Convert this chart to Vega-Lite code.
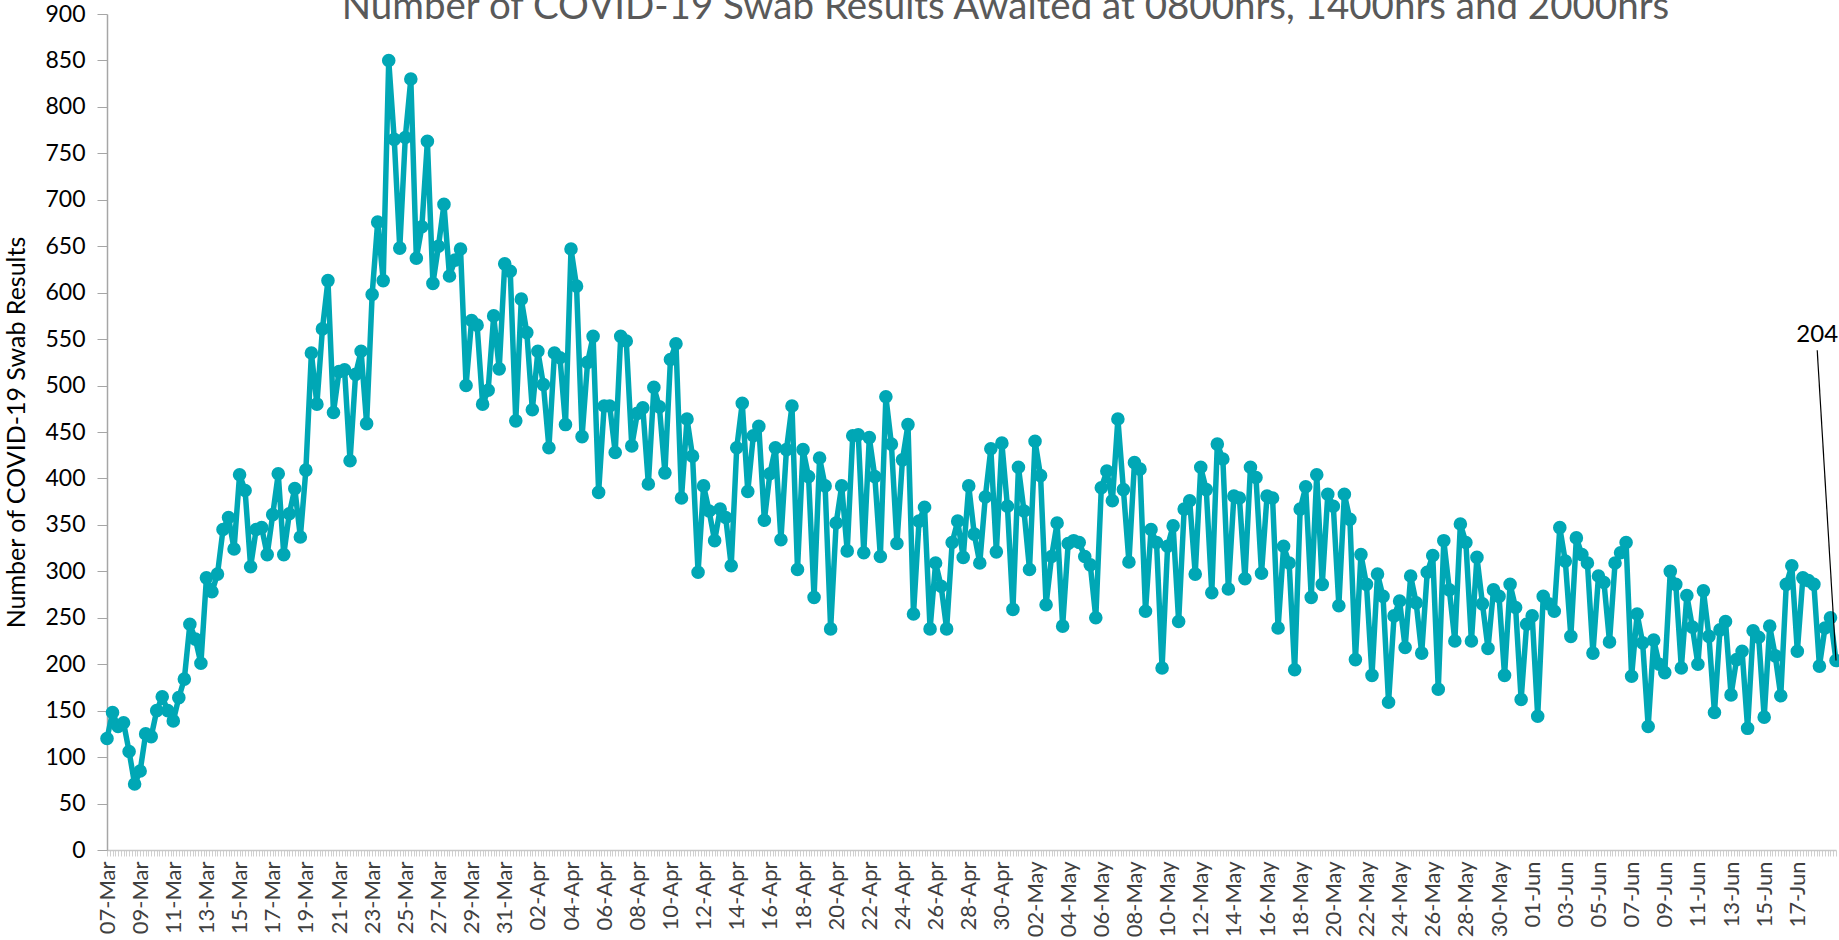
{
  "$schema": "https://vega.github.io/schema/vega-lite/v6.json",
  "width": 1729,
  "height": 836,
  "autosize": "none",
  "padding": {"left": 107, "top": 14, "right": 3, "bottom": 90},
  "background": "white",
  "config": {"view": {"stroke": null}, "font": "Lato"},
  "title": {
    "text": "Number of COVID-19 Swab Results Awaited at 0800hrs, 1400hrs and 2000hrs",
    "font": "Lato",
    "fontSize": 38.5,
    "fontWeight": "normal",
    "color": "#595959",
    "anchor": "middle",
    "frame": "group",
    "baseline": "alphabetic",
    "offset": 0,
    "dy": 54,
    "dx": 34
  },
  "data": {
    "values": [
      {"reading":0,"awaited":120},{"reading":1,"awaited":148},{"reading":2,"awaited":133},{"reading":3,"awaited":137},{"reading":4,"awaited":106},{"reading":5,"awaited":71},{"reading":6,"awaited":85},{"reading":7,"awaited":125},{"reading":8,"awaited":122},{"reading":9,"awaited":150},
      {"reading":10,"awaited":165},{"reading":11,"awaited":150},{"reading":12,"awaited":139},{"reading":13,"awaited":164},{"reading":14,"awaited":184},{"reading":15,"awaited":243},{"reading":16,"awaited":227},{"reading":17,"awaited":201},{"reading":18,"awaited":293},{"reading":19,"awaited":278},
      {"reading":20,"awaited":297},{"reading":21,"awaited":345},{"reading":22,"awaited":358},{"reading":23,"awaited":324},{"reading":24,"awaited":404},{"reading":25,"awaited":387},{"reading":26,"awaited":305},{"reading":27,"awaited":345},{"reading":28,"awaited":347},{"reading":29,"awaited":318},
      {"reading":30,"awaited":361},{"reading":31,"awaited":405},{"reading":32,"awaited":318},{"reading":33,"awaited":362},{"reading":34,"awaited":389},{"reading":35,"awaited":337},{"reading":36,"awaited":409},{"reading":37,"awaited":535},{"reading":38,"awaited":480},{"reading":39,"awaited":561},
      {"reading":40,"awaited":613},{"reading":41,"awaited":471},{"reading":42,"awaited":515},{"reading":43,"awaited":517},{"reading":44,"awaited":419},{"reading":45,"awaited":512},{"reading":46,"awaited":537},{"reading":47,"awaited":459},{"reading":48,"awaited":598},{"reading":49,"awaited":676},
      {"reading":50,"awaited":613},{"reading":51,"awaited":850},{"reading":52,"awaited":765},{"reading":53,"awaited":648},{"reading":54,"awaited":767},{"reading":55,"awaited":830},{"reading":56,"awaited":637},{"reading":57,"awaited":671},{"reading":58,"awaited":763},{"reading":59,"awaited":610},
      {"reading":60,"awaited":650},{"reading":61,"awaited":695},{"reading":62,"awaited":618},{"reading":63,"awaited":635},{"reading":64,"awaited":647},{"reading":65,"awaited":500},{"reading":66,"awaited":570},{"reading":67,"awaited":565},{"reading":68,"awaited":480},{"reading":69,"awaited":495},
      {"reading":70,"awaited":575},{"reading":71,"awaited":518},{"reading":72,"awaited":631},{"reading":73,"awaited":623},{"reading":74,"awaited":462},{"reading":75,"awaited":593},{"reading":76,"awaited":557},{"reading":77,"awaited":474},{"reading":78,"awaited":537},{"reading":79,"awaited":501},
      {"reading":80,"awaited":433},{"reading":81,"awaited":535},{"reading":82,"awaited":530},{"reading":83,"awaited":458},{"reading":84,"awaited":647},{"reading":85,"awaited":607},{"reading":86,"awaited":445},{"reading":87,"awaited":525},{"reading":88,"awaited":553},{"reading":89,"awaited":385},
      {"reading":90,"awaited":478},{"reading":91,"awaited":478},{"reading":92,"awaited":428},{"reading":93,"awaited":553},{"reading":94,"awaited":548},{"reading":95,"awaited":435},{"reading":96,"awaited":470},{"reading":97,"awaited":476},{"reading":98,"awaited":394},{"reading":99,"awaited":498},
      {"reading":100,"awaited":477},{"reading":101,"awaited":406},{"reading":102,"awaited":528},{"reading":103,"awaited":545},{"reading":104,"awaited":379},{"reading":105,"awaited":464},{"reading":106,"awaited":424},{"reading":107,"awaited":299},{"reading":108,"awaited":392},{"reading":109,"awaited":365},
      {"reading":110,"awaited":333},{"reading":111,"awaited":367},{"reading":112,"awaited":358},{"reading":113,"awaited":306},{"reading":114,"awaited":433},{"reading":115,"awaited":481},{"reading":116,"awaited":386},{"reading":117,"awaited":446},{"reading":118,"awaited":456},{"reading":119,"awaited":355},
      {"reading":120,"awaited":405},{"reading":121,"awaited":433},{"reading":122,"awaited":334},{"reading":123,"awaited":431},{"reading":124,"awaited":478},{"reading":125,"awaited":302},{"reading":126,"awaited":431},{"reading":127,"awaited":402},{"reading":128,"awaited":272},{"reading":129,"awaited":422},
      {"reading":130,"awaited":392},{"reading":131,"awaited":238},{"reading":132,"awaited":352},{"reading":133,"awaited":392},{"reading":134,"awaited":322},{"reading":135,"awaited":446},{"reading":136,"awaited":447},{"reading":137,"awaited":320},{"reading":138,"awaited":444},{"reading":139,"awaited":402},
      {"reading":140,"awaited":316},{"reading":141,"awaited":488},{"reading":142,"awaited":437},{"reading":143,"awaited":330},{"reading":144,"awaited":420},{"reading":145,"awaited":458},{"reading":146,"awaited":254},{"reading":147,"awaited":354},{"reading":148,"awaited":369},{"reading":149,"awaited":238},
      {"reading":150,"awaited":309},{"reading":151,"awaited":284},{"reading":152,"awaited":238},{"reading":153,"awaited":331},{"reading":154,"awaited":354},{"reading":155,"awaited":315},{"reading":156,"awaited":392},{"reading":157,"awaited":340},{"reading":158,"awaited":309},{"reading":159,"awaited":380},
      {"reading":160,"awaited":432},{"reading":161,"awaited":321},{"reading":162,"awaited":438},{"reading":163,"awaited":370},{"reading":164,"awaited":259},{"reading":165,"awaited":412},{"reading":166,"awaited":365},{"reading":167,"awaited":302},{"reading":168,"awaited":440},{"reading":169,"awaited":403},
      {"reading":170,"awaited":264},{"reading":171,"awaited":316},{"reading":172,"awaited":352},{"reading":173,"awaited":241},{"reading":174,"awaited":330},{"reading":175,"awaited":333},{"reading":176,"awaited":331},{"reading":177,"awaited":316},{"reading":178,"awaited":307},{"reading":179,"awaited":250},
      {"reading":180,"awaited":390},{"reading":181,"awaited":408},{"reading":182,"awaited":376},{"reading":183,"awaited":464},{"reading":184,"awaited":388},{"reading":185,"awaited":310},{"reading":186,"awaited":417},{"reading":187,"awaited":410},{"reading":188,"awaited":257},{"reading":189,"awaited":345},
      {"reading":190,"awaited":331},{"reading":191,"awaited":196},{"reading":192,"awaited":327},{"reading":193,"awaited":349},{"reading":194,"awaited":246},{"reading":195,"awaited":367},{"reading":196,"awaited":376},{"reading":197,"awaited":297},{"reading":198,"awaited":412},{"reading":199,"awaited":388},
      {"reading":200,"awaited":277},{"reading":201,"awaited":437},{"reading":202,"awaited":421},{"reading":203,"awaited":281},{"reading":204,"awaited":381},{"reading":205,"awaited":379},{"reading":206,"awaited":292},{"reading":207,"awaited":412},{"reading":208,"awaited":401},{"reading":209,"awaited":298},
      {"reading":210,"awaited":381},{"reading":211,"awaited":379},{"reading":212,"awaited":239},{"reading":213,"awaited":327},{"reading":214,"awaited":309},{"reading":215,"awaited":194},{"reading":216,"awaited":367},{"reading":217,"awaited":391},{"reading":218,"awaited":272},{"reading":219,"awaited":404},
      {"reading":220,"awaited":286},{"reading":221,"awaited":383},{"reading":222,"awaited":370},{"reading":223,"awaited":263},{"reading":224,"awaited":383},{"reading":225,"awaited":356},{"reading":226,"awaited":205},{"reading":227,"awaited":318},{"reading":228,"awaited":286},{"reading":229,"awaited":188},
      {"reading":230,"awaited":297},{"reading":231,"awaited":273},{"reading":232,"awaited":159},{"reading":233,"awaited":252},{"reading":234,"awaited":268},{"reading":235,"awaited":218},{"reading":236,"awaited":295},{"reading":237,"awaited":266},{"reading":238,"awaited":212},{"reading":239,"awaited":299},
      {"reading":240,"awaited":317},{"reading":241,"awaited":173},{"reading":242,"awaited":333},{"reading":243,"awaited":280},{"reading":244,"awaited":225},{"reading":245,"awaited":351},{"reading":246,"awaited":331},{"reading":247,"awaited":225},{"reading":248,"awaited":315},{"reading":249,"awaited":265},
      {"reading":250,"awaited":217},{"reading":251,"awaited":280},{"reading":252,"awaited":273},{"reading":253,"awaited":188},{"reading":254,"awaited":286},{"reading":255,"awaited":261},{"reading":256,"awaited":162},{"reading":257,"awaited":243},{"reading":258,"awaited":252},{"reading":259,"awaited":144},
      {"reading":260,"awaited":273},{"reading":261,"awaited":265},{"reading":262,"awaited":257},{"reading":263,"awaited":347},{"reading":264,"awaited":311},{"reading":265,"awaited":230},{"reading":266,"awaited":336},{"reading":267,"awaited":318},{"reading":268,"awaited":309},{"reading":269,"awaited":212},
      {"reading":270,"awaited":295},{"reading":271,"awaited":288},{"reading":272,"awaited":224},{"reading":273,"awaited":309},{"reading":274,"awaited":320},{"reading":275,"awaited":331},{"reading":276,"awaited":187},{"reading":277,"awaited":254},{"reading":278,"awaited":223},{"reading":279,"awaited":133},
      {"reading":280,"awaited":226},{"reading":281,"awaited":200},{"reading":282,"awaited":191},{"reading":283,"awaited":300},{"reading":284,"awaited":286},{"reading":285,"awaited":196},{"reading":286,"awaited":274},{"reading":287,"awaited":240},{"reading":288,"awaited":200},{"reading":289,"awaited":279},
      {"reading":290,"awaited":230},{"reading":291,"awaited":148},{"reading":292,"awaited":237},{"reading":293,"awaited":246},{"reading":294,"awaited":167},{"reading":295,"awaited":205},{"reading":296,"awaited":214},{"reading":297,"awaited":131},{"reading":298,"awaited":236},{"reading":299,"awaited":229},
      {"reading":300,"awaited":143},{"reading":301,"awaited":241},{"reading":302,"awaited":209},{"reading":303,"awaited":166},{"reading":304,"awaited":286},{"reading":305,"awaited":306},{"reading":306,"awaited":214},{"reading":307,"awaited":293},{"reading":308,"awaited":290},{"reading":309,"awaited":286},
      {"reading":310,"awaited":198},{"reading":311,"awaited":239},{"reading":312,"awaited":250},{"reading":313,"awaited":204}
    ]
  },
  "layer": [
    {
      "mark": {
        "type": "line",
        "color": "#00A7B5",
        "strokeWidth": 5.5,
        "strokeJoin": "round",
        "point": {"filled": true, "size": 185, "color": "#00A7B5", "opacity": 1}
      },
      "encoding": {
        "x": {
          "field": "reading",
          "type": "quantitative",
          "scale": {"domain": [0, 313], "nice": false, "zero": false},
          "axis": {
            "title": null,
            "grid": false,
            "tickCount": 627,
            "labelExpr": "(datum.value % 6 === 0 && datum.value <= 306) ? timeFormat(datetime(2020, 2, 7 + datum.value / 3), '%d-%b') : ''",
            "labelAngle": -90,
            "labelAlign": "right",
            "labelBaseline": "middle",
            "labelOverlap": false,
            "labelFlush": false,
            "labelBound": false,
            "labelFont": "Lato",
            "labelFontSize": 22,
            "labelColor": "#404040",
            "labelPadding": 5,
            "tickSize": 6,
            "tickColor": "#d0d0d0",
            "domainColor": "#c8c8c8",
            "domainWidth": 1.5
          }
        },
        "y": {
          "field": "awaited",
          "type": "quantitative",
          "scale": {"domain": [0, 900], "nice": false},
          "axis": {
            "title": "Number of COVID-19 Swab Results",
            "titleFont": "Lato",
            "titleFontSize": 25,
            "titleFontWeight": "normal",
            "titleColor": "#000000",
            "titlePadding": 15,
            "grid": false,
            "tickCount": 18,
            "labelFont": "Lato",
            "labelFontSize": 23,
            "labelColor": "#000000",
            "labelPadding": 12,
            "tickSize": 10,
            "tickColor": "#a6a6a6",
            "domainColor": "#a6a6a6",
            "domainWidth": 1.5
          }
        }
      }
    },
    {
      "transform": [{"filter": "datum.reading === 313"}],
      "mark": {"type": "rule", "color": "#000000", "strokeWidth": 1.2},
      "encoding": {
        "x": {"field": "reading", "type": "quantitative"},
        "y": {"field": "awaited", "type": "quantitative"},
        "x2": {"datum": 309.6},
        "y2": {"datum": 538}
      }
    },
    {
      "transform": [{"filter": "datum.reading === 313"}],
      "mark": {"type": "text", "font": "Lato", "fontSize": 24, "color": "#000000", "align": "center", "baseline": "alphabetic"},
      "encoding": {
        "x": {"datum": 309.6, "type": "quantitative"},
        "y": {"datum": 547, "type": "quantitative"},
        "text": {"field": "awaited", "type": "quantitative"}
      }
    }
  ]
}
